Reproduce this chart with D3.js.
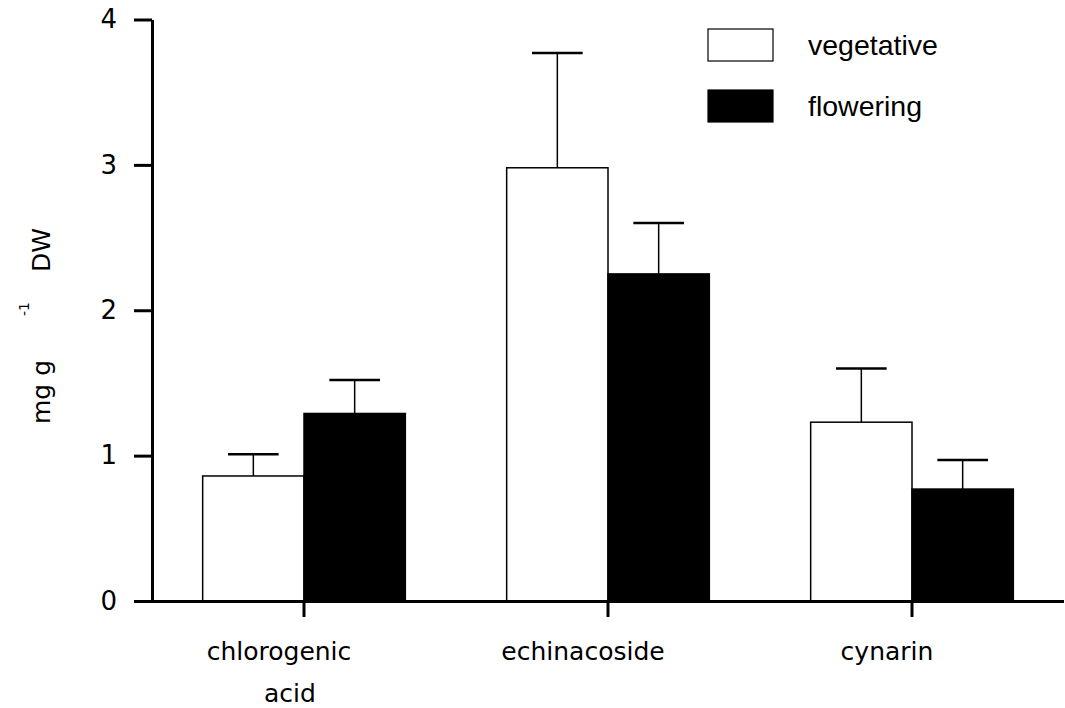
<!DOCTYPE html>
<html>
<head>
<meta charset="utf-8">
<script src="https://cdn.jsdelivr.net/npm/d3@7"></script>
<style>
  body { margin: 0; background: #fff; }
  svg { display: block; }
</style>
</head>
<body>
<svg width="1065" height="708"></svg>
<script>
const CATEGORIES = ["chlorogenic acid", "echinacoside", "cynarin"];
const SERIES = ["vegetative", "flowering"];
const VEG_MEAN = [0.86, 2.98, 1.23];
const VEG_ERR = [0.15, 0.79, 0.37];
const FLOW_MEAN = [1.29, 2.25, 0.77];
const FLOW_ERR = [0.23, 0.35, 0.20];
const Y_TICKS = [0, 1, 2, 3, 4];

// rows the chart is drawn from
const rows = [];
CATEGORIES.forEach((c, i) => {
  rows.push({cat: c, series: "vegetative", mean: VEG_MEAN[i], err: VEG_ERR[i]});
  rows.push({cat: c, series: "flowering", mean: FLOW_MEAN[i], err: FLOW_ERR[i]});
});

const svg = d3.select('svg');
const X0 = 152, X1 = 1064, Y0 = 601, Y1 = 19.5;

const x = d3.scaleBand().domain(CATEGORIES).range([X0, X1]);
const xs = d3.scaleBand().domain(SERIES).range([0, x.bandwidth()]).paddingOuter(0.5);
const y = d3.scaleLinear().domain([0, 4]).range([Y0, Y1]);
const fill = d3.scaleOrdinal().domain(SERIES).range(["#fff", "#000"]);

// bars
svg.selectAll('.bar')
  .data(rows)
  .enter()
  .append('rect')
  .classed('bar', true)
  .attr('x', d => x(d.cat) + xs(d.series))
  .attr('width', xs.bandwidth())
  .attr('y', d => y(d.mean))
  .attr('height', d => y(0) - y(d.mean))
  .attr('fill', d => fill(d.series))
  .attr('stroke', '#000')
  .attr('stroke-width', 1.5);

// error bars (upper half only)
const err = svg.selectAll('.err')
  .data(rows)
  .enter()
  .append('g')
  .classed('err', true)
  .attr('transform', d => `translate(${x(d.cat) + xs(d.series) + xs.bandwidth() / 2},0)`);

err.append('line')
  .attr('y1', d => y(d.mean))
  .attr('y2', d => y(d.mean + d.err))
  .attr('stroke', '#000')
  .attr('stroke-width', 1.5);

err.append('line')
  .attr('x1', -xs.bandwidth() / 4)
  .attr('x2', xs.bandwidth() / 4)
  .attr('y1', d => y(d.mean + d.err))
  .attr('y2', d => y(d.mean + d.err))
  .attr('stroke', '#000')
  .attr('stroke-width', 2.5);

// y axis
const yAxis = svg.append('g')
  .attr('transform', `translate(${X0},0)`)
  .call(d3.axisLeft(y).tickValues(Y_TICKS).tickFormat(d3.format('d')).tickSize(18).tickSizeOuter(0).tickPadding(17));
yAxis.selectAll('path, line').attr('stroke', '#000').attr('stroke-width', 3);
yAxis.selectAll('text')
  .attr('fill', '#000')
  .style('font-family', '"DejaVu Sans", Verdana, sans-serif')
  .style('font-size', '26px');

// x axis
const xAxis = svg.append('g')
  .attr('transform', `translate(0,${Y0})`)
  .call(d3.axisBottom(x).tickSize(16).tickSizeOuter(0).tickFormat(''));
xAxis.selectAll('path, line').attr('stroke', '#000').attr('stroke-width', 3);
xAxis.select('.domain').attr('d', `M${X0 - 18},0.5H${X1}`);

// category labels (wrapped, shifted a bit left as in the original)
const catLabels = svg.selectAll('.cat')
  .data(CATEGORIES)
  .enter()
  .append('text')
  .classed('cat', true)
  .attr('text-anchor', 'middle')
  .style('font-family', '"DejaVu Sans", Verdana, sans-serif')
  .style('font-size', '25px')
  .attr('fill', '#000');

catLabels.each(function (d) {
  const words = d.split(' ');
  const cx = x(d) + x.bandwidth() / 2 - 25;
  d3.select(this).selectAll('tspan')
    .data(words)
    .enter()
    .append('tspan')
    .attr('x', (w, i) => cx + (i ? 11 : 0))
    .attr('y', (w, i) => 660 + i * 42)
    .text(w => w);
});

// y label: mg g^-1 DW
const yLab = svg.append('g')
  .style('font-family', '"DejaVu Sans", Verdana, sans-serif')
  .attr('fill', '#000');
yLab.append('text').attr('transform', 'translate(50,392) rotate(-90)')
  .attr('text-anchor', 'middle').style('font-size', '25px').text('mg g');
yLab.append('text').attr('transform', 'translate(29,309) rotate(-90)')
  .attr('text-anchor', 'middle').style('font-size', '14px').text('-1');
yLab.append('text').attr('transform', 'translate(50,250) rotate(-90)')
  .attr('text-anchor', 'middle').style('font-size', '25px').text('DW');

// legend
const legend = svg.selectAll('.legend')
  .data(SERIES)
  .enter()
  .append('g')
  .classed('legend', true)
  .attr('transform', (d, i) => `translate(708,${29 + i * 61})`);

legend.append('rect')
  .attr('width', 65)
  .attr('height', 32)
  .attr('fill', d => fill(d))
  .attr('stroke', '#000')
  .attr('stroke-width', 1.2);

legend.append('text')
  .attr('x', 100)
  .attr('y', 26)
  .style('font-family', '"Liberation Sans", Arial, sans-serif')
  .style('font-size', '28.5px')
  .attr('fill', '#000')
  .text(d => d);
</script>
</body>
</html>
